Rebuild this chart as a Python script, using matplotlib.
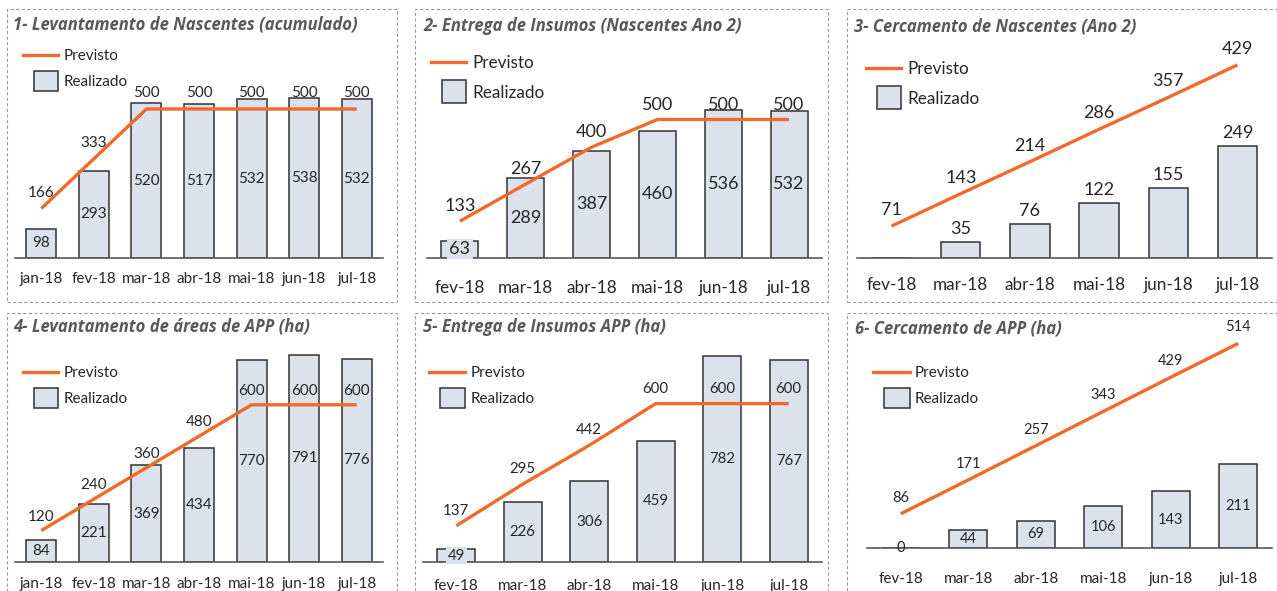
import matplotlib
matplotlib.use('Agg')
import numpy as np
import matplotlib.pyplot as plt
from matplotlib.patches import Rectangle, Patch
from matplotlib.lines import Line2D
from matplotlib.legend_handler import HandlerPatch

W, H = 1277, 591
DPI = 100

plt.rcParams['font.family'] = ['Lato', 'DejaVu Sans']

# ---- dados ----
meses_7 = ['jan-18', 'fev-18', 'mar-18', 'abr-18', 'mai-18', 'jun-18', 'jul-18']
meses_6 = ['fev-18', 'mar-18', 'abr-18', 'mai-18', 'jun-18', 'jul-18']

p1_titulo = '1- Levantamento de Nascentes (acumulado)'
p1_previsto = [166, 333, 500, 500, 500, 500, 500]
p1_realizado = [98, 293, 520, 517, 532, 538, 532]

p2_titulo = '2- Entrega de Insumos (Nascentes Ano 2)'
p2_previsto = [133, 267, 400, 500, 500, 500]
p2_realizado = [63, 289, 387, 460, 536, 532]

p3_titulo = '3- Cercamento de Nascentes (Ano 2)'
p3_previsto = [71, 143, 214, 286, 357, 429]
p3_realizado = [None, 35, 76, 122, 155, 249]

p4_titulo = '4- Levantamento de áreas de APP (ha)'
p4_previsto = [120, 240, 360, 480, 600, 600, 600]
p4_realizado = [84, 221, 369, 434, 770, 791, 776]

p5_titulo = '5- Entrega de Insumos APP (ha)'
p5_previsto = [137, 295, 442, 600, 600, 600]
p5_realizado = [49, 226, 306, 459, 782, 767]

p6_titulo = '6- Cercamento de APP (ha)'
p6_previsto = [86, 171, 257, 343, 429, 514]
p6_realizado = [0, 44, 69, 106, 143, 211]

# ---- estilo ----
LARANJA = '#F26A2B'
BARRA = '#DCE2EC'
BORDA_BARRA = '#333333'
TEXTO = '#262626'
CINZA_TIT = '#595959'

fig = plt.figure(figsize=(W / DPI, H / DPI), dpi=DPI)


def px_rect(x0, y0, x1, y1):
    return [x0 / W, 1 - y1 / H, (x1 - x0) / W, (y1 - y0) / H]


def patch_legenda(legend, orig_handle, xdescent, ydescent, width, height, fontsize):
    return Rectangle((-xdescent + width * 0.31, -ydescent - height * 0.45),
                     width * 0.69, height * 1.9)


def painel(titulo, meses, previsto, realizado, cfg):
    # moldura tracejada
    r = px_rect(*cfg['moldura'])
    fig.add_artist(Rectangle(r[:2], r[2], r[3], transform=fig.transFigure, fill=False,
                             ls=(0, (3, 2)), lw=0.8, ec='#9c9c9c'))
    fig.text(cfg['tit'][0] / W, 1 - cfg['tit'][1] / H, titulo, ha='left', va='center',
             style='italic', weight='bold', color=CINZA_TIT, fontsize=cfg['fs_tit'],
             family=['Open Sans', 'DejaVu Sans'])

    x0, x1, base, topo = cfg['eixo']
    ax = fig.add_axes(px_rect(x0, topo, x1, base))
    n = len(meses)
    x = np.arange(n)
    ax.set_xlim(-0.5, n - 0.5)
    ax.set_ylim(0, (base - topo) / cfg['escala'])

    real = np.array([np.nan if v is None else v for v in realizado], dtype=float)
    ax.bar(x, np.nan_to_num(real), width=cfg['larg'], color=BARRA,
           edgecolor=BORDA_BARRA, lw=1.1, zorder=2)
    ax.plot(x, previsto, color=LARANJA, lw=2.4, zorder=3, solid_capstyle='butt')

    for sp in ['top', 'left', 'right']:
        ax.spines[sp].set_visible(False)
    ax.spines['bottom'].set_color('#595959')
    ax.spines['bottom'].set_linewidth(1.2)
    ax.spines['bottom'].set_zorder(2.5)
    ax.set_yticks([])
    ax.set_xticks(x)
    ax.set_xticklabels(meses, fontsize=cfg['fs_tick'], color=TEXTO)
    ax.tick_params(axis='x', length=0, pad=cfg['pad'])
    ax.patch.set_visible(False)

    k = 1 / DPI * 72
    for i, v in enumerate(previsto):
        ax.annotate(str(v), (i, v), xytext=(0, cfg['off_prev'] * k), textcoords='offset points',
                    ha='center', va='center', fontsize=cfg['fs_lab'], color=TEXTO, zorder=5)
    for i, v in enumerate(realizado):
        if v is None:
            continue
        if cfg['modo'] == 'fora':
            ax.annotate(str(v), (i, v), xytext=(0, cfg['off_real'] * k), textcoords='offset points',
                        ha='center', va='center', fontsize=cfg['fs_lab'], color=TEXTO, zorder=5)
        else:
            caixa = None
            if cfg.get('caixa') and i == 0:
                caixa = dict(boxstyle='square,pad=0.12', fc=BARRA, ec='none')
            ax.annotate(str(v), (i, v / 2), ha='center', va='center', fontsize=cfg['fs_lab'],
                        color=TEXTO, zorder=5, bbox=caixa)

    handles = [Line2D([], [], color=LARANJA, lw=2.4),
               Patch(facecolor=BARRA, edgecolor=BORDA_BARRA, lw=1.1)]
    lx, ly = cfg['leg']
    fig.legend(handles, ['Previsto', 'Realizado'], loc='upper left',
               bbox_to_anchor=(lx / W, 1 - ly / H), bbox_transform=fig.transFigure,
               frameon=False, borderpad=0, borderaxespad=0, fontsize=cfg['fs_leg'],
               handlelength=cfg['hl'], handletextpad=0.35, labelspacing=0.8,
               labelcolor=TEXTO,
               handler_map={Patch: HandlerPatch(patch_func=patch_legenda)})
    return ax


cfg1 = dict(moldura=(7, 9, 397, 302), tit=(13, 24), fs_tit=12, eixo=(15, 383, 258, 35),
            escala=0.298, larg=0.57, fs_tick=11, pad=10, fs_lab=11, off_prev=16,
            modo='dentro', leg=(23, 49), fs_leg=11, hl=2.3)
cfg2 = dict(moldura=(415, 9, 828, 302), tit=(423, 26), fs_tit=12, eixo=(427, 822, 258, 35),
            escala=0.277, larg=0.56, fs_tick=12.3, pad=15.5, fs_lab=13, off_prev=15,
            modo='dentro', caixa=True, leg=(431, 55), fs_leg=12.3, hl=2.05)
cfg3 = dict(moldura=(847, 9, 1290, 302), tit=(854, 26), fs_tit=12, eixo=(857, 1272, 258, 35),
            escala=0.45, larg=0.57, fs_tick=12.3, pad=13.5, fs_lab=13, off_prev=16,
            modo='fora', off_real=13, leg=(866, 61), fs_leg=12.3, hl=2.05)
cfg4 = dict(moldura=(7, 313, 397, 600), tit=(13, 327), fs_tit=12, eixo=(15, 383, 562, 335),
            escala=0.262, larg=0.57, fs_tick=11, pad=10.5, fs_lab=11, off_prev=14,
            modo='dentro', leg=(23, 366), fs_leg=11, hl=2.3)
cfg5 = dict(moldura=(415, 313, 828, 600), tit=(423, 327), fs_tit=12, eixo=(423, 822, 562, 335),
            escala=0.264, larg=0.57, fs_tick=11, pad=12.5, fs_lab=10.8, off_prev=15,
            modo='dentro', caixa=True, leg=(429, 366), fs_leg=11, hl=2.35)
cfg6 = dict(moldura=(847, 313, 1290, 600), tit=(855, 329), fs_tit=12, eixo=(867, 1272, 548, 335),
            escala=0.398, larg=0.56, fs_tick=11, pad=17, fs_lab=10.5, off_prev=16,
            modo='dentro', leg=(873, 366), fs_leg=11, hl=2.4)

painel(p1_titulo, meses_7, p1_previsto, p1_realizado, cfg1)
painel(p2_titulo, meses_6, p2_previsto, p2_realizado, cfg2)
painel(p3_titulo, meses_6, p3_previsto, p3_realizado, cfg3)
painel(p4_titulo, meses_7, p4_previsto, p4_realizado, cfg4)
painel(p5_titulo, meses_6, p5_previsto, p5_realizado, cfg5)
painel(p6_titulo, meses_6, p6_previsto, p6_realizado, cfg6)

fig.savefig('out.png', dpi=DPI)
